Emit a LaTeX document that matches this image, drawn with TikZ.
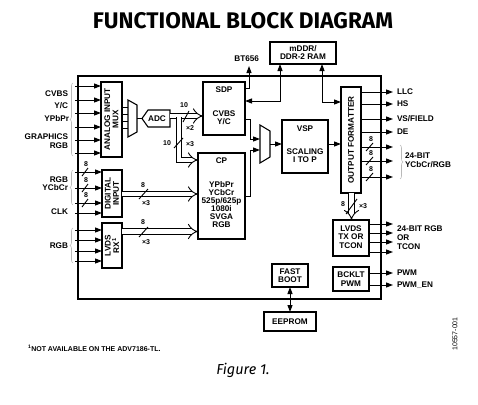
\documentclass[tikz,border=0pt]{standalone}
\usepackage{fontspec}
\setmainfont{Liberation Sans}
\newfontfamily\titlefont{Fira Sans}
\usetikzlibrary{arrows.meta,decorations.pathreplacing}
\begin{document}
\begin{tikzpicture}[x=1pt,y=-1pt,
  every node/.style={inner sep=0pt, outer sep=0pt},
  lbl/.style={font=\bfseries\fontsize{8.2}{8.3}\selectfont, align=center},
  sml/.style={font=\bfseries\fontsize{7}{7}\selectfont},
  box/.style={draw, line width=1.1pt, rectangle},
  conn/.style={line width=1pt},
  arr/.style={conn, -{Triangle[length=7pt,width=5pt]}},
  darr/.style={conn, {Triangle[length=7pt,width=5pt]}-{Triangle[length=7pt,width=5pt]}},
  bus/.style={line width=0.9pt, double, double distance=4.5pt, -{Implies}},
  slash/.style={line width=0.9pt},
  brc/.style={draw=gray!55, line width=0.6pt, decorate, decoration={brace, amplitude=3pt}},
]
\useasboundingbox (0,0) rectangle (478,404);

% title
\node (title) at (243,21) {\resizebox{300pt}{!}{\titlefont\bfseries FUNCTIONAL BLOCK DIAGRAM}};

% chip outline
\node[draw, line width=2pt, minimum width=303pt, minimum height=223pt] (chip) at (229.5,187.5) {};

% boxes
\node[box, minimum width=66pt, minimum height=22pt] (mddr) at (303,53) {};
\node[lbl] (mddrt) at (303,52.5) {mDDR/\\DDR-2 RAM};
\node[box, minimum width=42pt, minimum height=53pt] (sdp) at (224,108.5) {};
\node[lbl] (sdpt1) at (224,90) {SDP};
\node[lbl] (sdpt2) at (224,118) {CVBS\\Y/C};
\node[box, minimum width=47pt, minimum height=86pt] (cp) at (221.5,196) {};
\node[lbl] (cpt1) at (221.5,161) {CP};
\node[lbl, font=\bfseries\fontsize{8.2}{8}\selectfont] (cpt2) at (221.5,205) {YPbPr\\YCbCr\\525p/625p\\1080i\\SVGA\\RGB};
\node[box, minimum width=46pt, minimum height=53pt] (vsp) at (305,146.5) {};
\node[lbl] (vspt1) at (305,129) {VSP};
\node[lbl] (vspt2) at (305,156) {SCALING\\I TO P};
\node[box, minimum width=20pt, minimum height=106pt] (fmt) at (351,140) {};
\node[lbl, rotate=90] (fmtt) at (351,140) {OUTPUT FORMATTER};
\node[box, minimum width=21pt, minimum height=75pt] (amux) at (111.5,119.5) {};
\node[lbl, rotate=90] (amuxt) at (111.5,119.5) {ANALOG INPUT\\MUX};
\node[box, minimum width=20pt, minimum height=47pt] (dig) at (112,193.5) {};
\node[lbl, rotate=90] (digt) at (112,193.5) {DIGITAL\\INPUT};
\node[box, minimum width=20pt, minimum height=45pt] (lrx) at (112,245.5) {};
\node[lbl, rotate=90] (lrxt) at (112,245.5) {LVDS\\RX\textsuperscript{1}};
\node[box, minimum width=36pt, minimum height=36pt] (ltx) at (351,238) {};
\node[lbl] (ltxt) at (351,237) {LVDS\\TX OR\\TCON};
\node[box, minimum width=36pt, minimum height=24pt] (bck) at (351,279) {};
\node[lbl] (bckt) at (351,279) {BCKLT\\PWM};
\node[box, minimum width=36pt, minimum height=23pt] (fbt) at (290,275.5) {};
\node[lbl] (fbtt) at (290,275.5) {FAST\\BOOT};
\node[box, minimum width=52pt, minimum height=19pt] (eep) at (290,321.5) {};
\node[lbl] (eept) at (290,321.5) {EEPROM};

% ADC and muxes
\draw[line width=1.1pt] (142,118.5) -- (148,110) -- (170,110) -- (170,127) -- (148,127) -- cycle;
\node[lbl] (adc) at (157,118.5) {ADC};
\draw[line width=1.1pt] (128,100) -- (137,105) -- (137,132) -- (128,137) -- cycle;
\draw[line width=1.1pt] (260,125) -- (270,131) -- (270,157) -- (260,163) -- cycle;
\coordinate (m1in) at (128,118.5);
\coordinate (m1out) at (137,118.5);
\coordinate (adcin) at (142,118.5);
\coordinate (adcout) at (170,116);
\coordinate (m2out) at (270,144);
\coordinate (m2inA) at (260,139);
\coordinate (m2inB) at (260,150);

% analog inputs
\foreach \y in {86,100,113,127,140,153} \draw[arr] (75,\y) -- (amux.west |- 0,\y);
\node[lbl, anchor=east] (l1) at (68,94) {CVBS};
\node[lbl, anchor=east] (l2) at (68,106) {Y/C};
\node[lbl, anchor=east] (l3) at (69,119) {YPbPr};
\node[lbl, anchor=east] (l4) at (68,137) {GRAPHICS};
\node[lbl, anchor=east] (l5) at (68,146) {RGB};
\draw[brc] (73,156) -- (73,83);

% amux to mux1 to ADC
\foreach \y in {107,114,121,128} \draw[conn] (amux.east |- 0,\y) -- (m1in |- 0,\y);
\draw[conn] (m1out) -- (adcin);

% ADC buses
\draw[bus] (adcout) -- (sdp.west |- adcout);
\coordinate (brA) at (179,117.2);
\draw[bus] (brA) |- (cp.west |- 0,160);
\draw[slash] (183,122) -- (189,111);
\node[sml] (n10a) at (184,105.5) {10};
\node[sml] (x2) at (190,128) {×2};
\draw[slash] (174,148) -- (183,138);
\node[sml] (n10b) at (167,143) {10};
\node[sml] (x3a) at (190,144) {×3};

% digital inputs
\foreach \y in {172,188,203} {
  \draw[arr] (75,\y) -- (dig.west |- 0,\y);
  \draw[slash] (82,\y+4) -- (88,\y-4);
  \node[sml] at (86,\y-8) {8};
}
\draw[arr] (75,213) -- (dig.west |- 0,213);
\node[lbl, anchor=east] (l6) at (68,180) {RGB};
\node[lbl, anchor=east] (l7) at (68,188) {YCbCr};
\node[lbl, anchor=east] (l8) at (68,212) {CLK};
\draw[brc] (73,205) -- (73,170);

% LVDS RX inputs
\foreach \y in {230,240,251,261} \draw[arr] (75,\y) -- (lrx.west |- 0,\y);
\node[lbl, anchor=east] (l9) at (68,246) {RGB};
\draw[brc] (73,263) -- (73,228);

% buses into CP
\draw[bus] (dig.east |- 0,194) -- (cp.west |- 0,194);
\draw[slash] (139,199) -- (148,189);
\node[sml] (n8a) at (143,185) {8};
\node[sml] (x3b) at (146,203) {×3};
\draw[bus] (lrx.east |- 0,231.5) -- (cp.west |- 0,231.5);
\draw[slash] (139,237) -- (148,227);
\node[sml] (n8b) at (143,222) {8};
\node[sml] (x3c) at (146,242) {×3};

% SDP and CP to mux2
\draw[arr] (sdp.east |- 0,119) -- (250,119) |- (m2inA);
\draw[arr] (cp.east |- 0,196) -- (250,196) |- (m2inB);
\draw[arr] (m2out) -- (vsp.west |- m2out);
\draw[arr] (vsp.east |- m2out) -- (fmt.west |- m2out);

% BT656
\node[lbl, anchor=east] (bt) at (259,58.5) {BT656};
\coordinate (btend) at (249,66);
\draw[arr] (sdp.east |- 0,88) -| (btend);

% mDDR connections
\coordinate (ja) at (280,101);
\coordinate (jb) at (322,102);
\draw[darr] (sdp.east |- ja) -| (mddr.south -| ja);
\draw[darr] (mddr.south -| jb) |- (fmt.west |- jb);

% outputs of formatter
\foreach \y in {92,104,119,132,147,161,177} \draw[arr] (fmt.east |- 0,\y) -- (393,\y);
\foreach \y in {147,161,177} {
  \draw[slash] (366,\y+4) -- (373,\y-4);
  \node[sml] at (371,\y-8) {8};
}
\node[lbl, anchor=west] (o1) at (397,92) {LLC};
\node[lbl, anchor=west] (o2) at (397,104) {HS};
\node[lbl, anchor=west] (o3) at (397,119) {VS/FIELD};
\node[lbl, anchor=west] (o4) at (397,132) {DE};
\draw[brc] (400,145) -- (400,179);
\node[lbl, anchor=west] (o5) at (405,156) {24-BIT};
\node[lbl, anchor=west] (o6) at (405,165) {YCbCr/RGB};

% formatter to LVDS TX
\draw[bus] (fmt.south -| 351.5,0) -- (ltx.north -| 351.5,0);
\draw[slash] (346,214) -- (357,199);
\node[sml] (n8c) at (343,204) {8};
\node[sml] (x3d) at (363,206) {×3};

% LVDS TX outputs
\foreach \y in {224,233,242,252} \draw[arr] (ltx.east |- 0,\y) -- (393,\y);
\node[lbl, anchor=west] (o7) at (397,229) {24-BIT RGB};
\node[lbl, anchor=west] (o8) at (397,238) {OR};
\node[lbl, anchor=west] (o9) at (397,247) {TCON};

% BCKLT outputs
\draw[arr] (bck.east |- 0,273) -- (393,273);
\draw[arr] (bck.east |- 0,285) -- (393,285);
\node[lbl, anchor=west] (o10) at (397,273) {PWM};
\node[lbl, anchor=west] (o11) at (397,285) {PWM\_EN};

% fast boot to eeprom
\draw[darr] (fbt.south) -- (eep.north);

% footnote, caption, id
\node[font=\bfseries\fontsize{7}{7}\selectfont, anchor=west] (fn) at (28,348) {\textsuperscript{1}NOT AVAILABLE ON THE ADV7186-TL.};
\node[font=\titlefont\itshape\fontsize{14.5}{15}\selectfont] (fig) at (243,370) {Figure 1.};
\node[font=\fontsize{7}{7}\selectfont, rotate=90] (id) at (455,334) {10557-001};
\end{tikzpicture}
\end{document}
